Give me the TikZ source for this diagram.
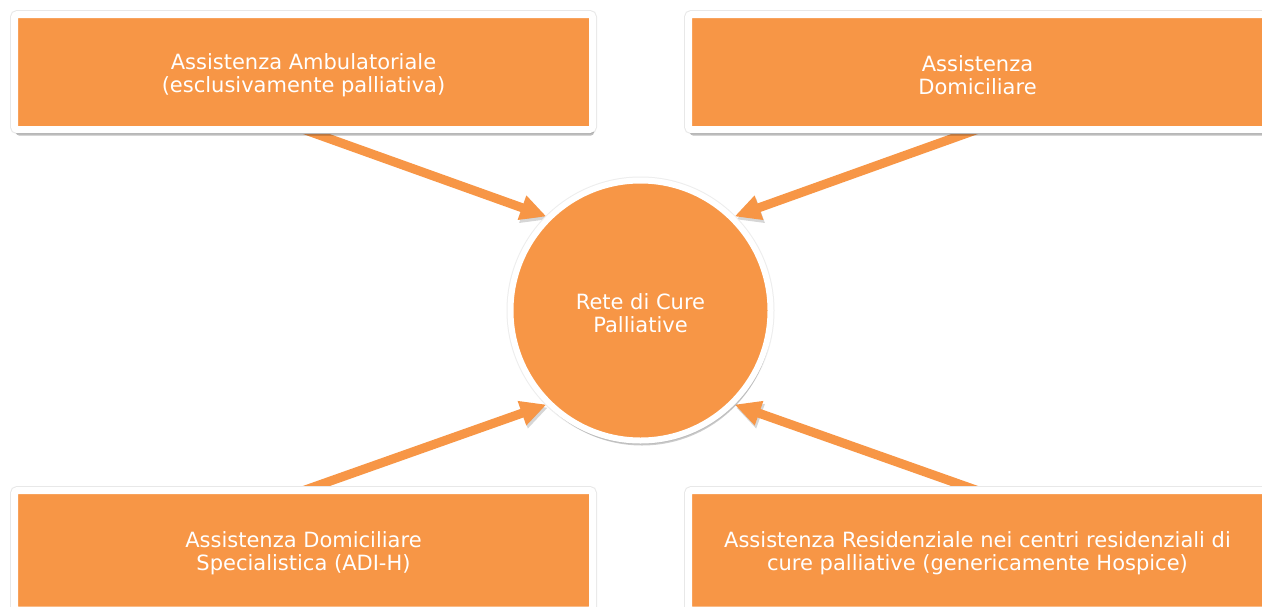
\documentclass[tikz,border=0pt]{standalone}
\usepackage{fontspec}
\setmainfont{DejaVu Sans}
\usetikzlibrary{arrows.meta,shadows}
\definecolor{orangeacc}{HTML}{F79646}
\pgfdeclarelayer{background}
\pgfdeclarelayer{backdrop}
\pgfsetlayers{backdrop,background,main}
\begin{document}
\begin{tikzpicture}[x=1pt,y=-1pt,
  textstyle/.style={text=white, align=center, font=\fontsize{21}{23}\selectfont, yshift=-2.8pt, inner sep=0pt},
  boxstyle/.style={rectangle, fill=orangeacc, draw=white, line width=7pt,
    rounded corners=3pt, minimum width=578pt, minimum height=115pt,
    preaction={draw=black!9, line width=9pt},
    drop shadow={shadow xshift=1.5pt, shadow yshift=-6pt, opacity=0.25, fill=black}},
  hubstyle/.style={circle, fill=orangeacc, draw=white, line width=6pt,
    minimum size=260pt, inner sep=0pt,
    preaction={draw=black!7, line width=8pt},
    drop shadow={shadow xshift=1.5pt, shadow yshift=-5pt, opacity=0.2, fill=black}},
  linkstyle/.style={draw=orangeacc, line width=9pt, shorten <=-10pt,
    -{Triangle[length=26pt,width=24pt]},
    preaction={draw=black, opacity=0.16, transform canvas={xshift=1.5pt,yshift=-3pt}}}
]
\clip (0,0) rectangle (1262,606);
\useasboundingbox (0,0) rectangle (1262,606);
\begin{pgfonlayer}{backdrop}
\fill[white] (0,0) rectangle (1262,606);
\end{pgfonlayer}

\node[hubstyle, label={[textstyle]center:Rete di Cure\\Palliative}] (c) at (640.5,310.5) {};

\node[boxstyle, label={[textstyle]center:Assistenza Ambulatoriale\\(esclusivamente palliativa)}] (tl) at (303.5,72) {};
\node[boxstyle, label={[textstyle]center:Assistenza\\Domiciliare}] (tr) at (977.5,72) {};
\node[boxstyle, minimum height=119.5pt, label={[textstyle]center:Assistenza Domiciliare\\Specialistica (ADI-H)}] (bl) at (303.5,550.25) {};
\node[boxstyle, minimum height=119.5pt, label={[textstyle]center:Assistenza Residenziale nei centri residenziali di\\cure palliative (genericamente Hospice)}] (br) at (977.5,550.25) {};

\begin{pgfonlayer}{background}
\draw[linkstyle] ([xshift=10pt]tl.south) -- (c.135);
\draw[linkstyle] ([xshift=-10pt]tr.south) -- (c.45);
\draw[linkstyle] ([xshift=10pt]bl.north) -- (c.225);
\draw[linkstyle] ([xshift=-10pt]br.north) -- (c.315);
\end{pgfonlayer}
\end{tikzpicture}
\end{document}
